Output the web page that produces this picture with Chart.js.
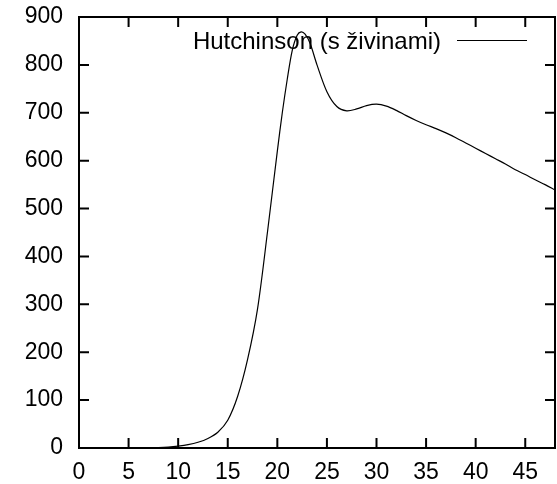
<!DOCTYPE html>
<html>
<head>
<meta charset="utf-8">
<script src="https://cdn.jsdelivr.net/npm/chart.js@4.4.0/dist/chart.umd.min.js"></script>
<style>
  html, body { margin: 0; padding: 0; background: #fff; }
  #wrap { width: 557px; height: 484px; }
</style>
</head>
<body>
<div id="wrap"><canvas id="chart"></canvas></div>
<script>
// hodnoty
const seriesLabel = 'Hutchinson (s živinami)';
const tValues = [0, 2, 4, 6, 8, 9, 10, 11, 12, 13, 14, 15, 16, 17, 18, 19, 20, 20.5, 21, 21.5, 22, 22.4, 22.8, 23.3, 24, 25, 26, 27, 28, 29, 30, 31, 32, 33, 34, 35, 36, 37, 38, 39, 40, 41, 42, 43, 44, 45, 46, 47, 48];
const nValues = [0, 0, 0, 0, 1, 2, 4, 7, 12, 20, 33, 58, 108, 185, 290, 450, 620, 700, 770, 830, 862, 869, 864, 845, 800, 744, 713, 704, 708, 715, 718, 714, 705, 694, 684, 675, 667, 658, 648, 637, 626, 615, 604, 593, 581, 571, 560, 550, 539];
const xTicks = [0, 5, 10, 15, 20, 25, 30, 35, 40, 45];
const yTicks = [0, 100, 200, 300, 400, 500, 600, 700, 800, 900];

const points = tValues.map((t, i) => ({ x: t, y: nValues[i] }));

// rámeček, dovnitř směřující značky a legenda ve stylu gnuplotu
const framePlugin = {
  id: 'frame',
  afterDatasetsDraw(chart) {
    const { ctx, chartArea: a, scales: { x, y } } = chart;
    const tick = 10;
    ctx.save();
    ctx.strokeStyle = '#000';
    ctx.lineWidth = 2;
    ctx.strokeRect(a.left, a.top, a.right - a.left, a.bottom - a.top);
    ctx.beginPath();
    xTicks.forEach(v => {
      const px = x.getPixelForValue(v);
      ctx.moveTo(px, a.bottom); ctx.lineTo(px, a.bottom - tick);
      ctx.moveTo(px, a.top); ctx.lineTo(px, a.top + tick);
    });
    yTicks.forEach(v => {
      const py = y.getPixelForValue(v);
      ctx.moveTo(a.left, py); ctx.lineTo(a.left + tick, py);
      ctx.moveTo(a.right, py); ctx.lineTo(a.right - tick, py);
    });
    ctx.stroke();

    // legenda
    ctx.fillStyle = '#000';
    ctx.font = '24px "Liberation Sans", Arial, sans-serif';
    ctx.textAlign = 'right';
    ctx.textBaseline = 'middle';
    ctx.fillText(seriesLabel, 441, 42);
    ctx.lineWidth = 1;
    ctx.beginPath();
    ctx.moveTo(457, 40.5); ctx.lineTo(527, 40.5);
    ctx.stroke();
    ctx.restore();
  }
};

new Chart(document.getElementById('chart'), {
  type: 'scatter',
  data: {
    datasets: [{
      label: seriesLabel,
      data: points,
      showLine: true,
      borderColor: '#000',
      borderWidth: 1.2,
      pointRadius: 0,
      tension: 0.3,
      fill: false
    }]
  },
  options: {
    responsive: true,
    maintainAspectRatio: false,
    animation: false,
    layout: { padding: { top: 17, right: 2, left: 0, bottom: 0 } },
    plugins: { legend: { display: false }, tooltip: { enabled: false } },
    scales: {
      x: {
        type: 'linear',
        min: 0,
        max: 48,
        afterFit(scale) { scale.height = 36; scale.paddingLeft = 0; scale.paddingRight = 0; },
        afterBuildTicks(scale) { scale.ticks = xTicks.map(v => ({ value: v })); },
        grid: { display: false, drawTicks: false },
        border: { display: false },
        ticks: {
          color: '#000',
          padding: 11,
          maxRotation: 0,
          font: { family: '"Liberation Sans", Arial, sans-serif', size: 23 }
        }
      },
      y: {
        min: 0,
        max: 900,
        afterFit(scale) { scale.width = 79; scale.paddingTop = 0; scale.paddingBottom = 0; },
        afterBuildTicks(scale) { scale.ticks = yTicks.map(v => ({ value: v })); },
        grid: { display: false, drawTicks: false },
        border: { display: false },
        ticks: {
          color: '#000',
          padding: 16,
          font: { family: '"Liberation Sans", Arial, sans-serif', size: 23 }
        }
      }
    }
  },
  plugins: [framePlugin]
});
</script>
</body>
</html>
